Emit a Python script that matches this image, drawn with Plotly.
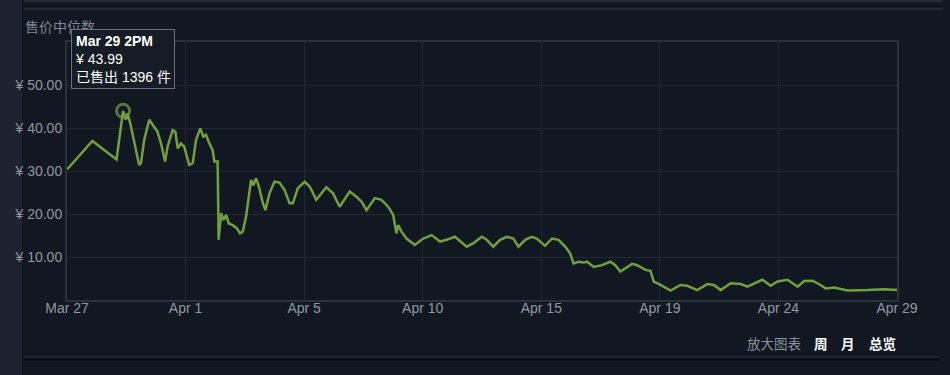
import plotly.graph_objects as go
import pandas as pd

# ---------------- data ----------------
base = pd.Timestamp("2024-03-27 00:00")
range_days = [0.351, 33.351]

day_offsets = [
    0.36, 1.36, 2.32, 2.58, 2.69, 2.75, 2.85, 2.95, 3.05, 3.22, 3.29, 3.42, 3.62, 3.75,
    3.95, 4.09, 4.25, 4.35, 4.55, 4.66, 4.75, 4.88, 5.01, 5.21, 5.35, 5.48, 5.65, 5.77,
    5.88, 5.98, 6.14, 6.21, 6.34, 6.38, 6.48, 6.57, 6.68, 6.78, 6.94, 7.10, 7.23, 7.34,
    7.47, 7.67, 7.76, 7.87, 7.98, 8.14, 8.24, 8.40, 8.60, 8.80, 9.00, 9.20, 9.33, 9.53,
    9.73, 9.80, 10.00, 10.26, 10.66, 10.93, 11.19, 11.59, 11.86, 12.06, 12.26, 12.59,
    12.85, 13.12, 13.32, 13.45, 13.52, 13.65, 13.85, 14.18, 14.51, 14.85, 15.18, 15.45,
    15.78, 15.98, 16.24, 16.51, 16.84, 17.04, 17.30, 17.57, 17.84, 18.10, 18.30, 18.57,
    18.83, 19.03, 19.36, 19.63, 19.89, 20.16, 20.36, 20.49, 20.69, 20.89, 21.03, 21.29,
    21.62, 21.95, 22.15, 22.35, 22.82, 23.02, 23.35, 23.55, 23.68, 23.95, 24.35, 24.74,
    25.01, 25.41, 25.81, 26.07, 26.34, 26.74, 27.14, 27.40, 28.00, 28.33, 28.60, 29.00,
    29.40, 29.66, 29.99, 30.19, 30.52, 30.85, 31.39, 32.18, 32.85, 33.35,
]
prices = [
    30.4, 37.0, 32.7, 43.99, 41.9, 43.4, 41.5, 38.8, 35.7, 31.4, 31.8, 37.2, 41.9, 40.7,
    39.1, 36.4, 32.2, 35.7, 39.5, 39.1, 35.3, 36.4, 35.7, 31.4, 31.8, 37.2, 39.9, 38.0,
    38.4, 36.8, 34.9, 32.2, 32.2, 14.0, 20.2, 18.6, 19.8, 17.8, 17.4, 16.7, 15.5, 15.9,
    19.4, 27.9, 26.7, 28.3, 26.4, 22.5, 20.9, 24.8, 27.5, 27.3, 25.6, 22.5, 22.5, 26.0,
    27.1, 27.5, 26.4, 23.3, 26.2, 24.8, 21.7, 25.2, 24.0, 22.9, 20.9, 23.7,
    23.3, 21.7, 19.8, 15.5, 17.4, 15.9, 14.3, 12.8, 14.3, 15.1, 13.6, 14.0,
    14.7, 13.6, 12.4, 13.2, 14.7, 14.0, 12.4, 14.0, 14.7, 14.3, 12.4, 14.0,
    14.7, 14.3, 12.6, 14.3, 14.0, 12.4, 10.8, 8.5, 8.9, 8.7, 8.9, 7.7,
    8.1, 8.9, 8.1, 6.6, 8.4, 8.1, 7.0, 6.8, 4.3, 3.5, 2.2, 3.5,
    3.3, 2.3, 3.7, 3.5, 2.3, 3.9, 3.7, 3.1, 4.7, 3.3, 4.3, 4.7,
    3.1, 4.4, 4.5, 3.9, 2.7, 2.9, 2.2, 2.3, 2.5, 2.3,
]

x_tick_labels = ["Mar 27", "Apr 1", "Apr 5", "Apr 10", "Apr 15", "Apr 19", "Apr 24", "Apr 29"]
y_tick_values = [10, 20, 30, 40, 50]
y_tick_labels = ["¥ 10.00", "¥ 20.00", "¥ 30.00", "¥ 40.00", "¥ 50.00"]
y_range = [0, 60]

peak_day = 2.58
peak_price = 43.99
peak_label = "Mar 29 2PM"
peak_sold = 1396

title_text = "售价中位数"
zoom_text = "放大图表"
range_buttons = ["周", "月", "总览"]

# ---------------- styling ----------------
W, H = 950, 375
L, R, T, B = 67, 897, 42, 300          # plot area in pixels
BG = "#111821"
STRIP = "#1d2231"
LINE = "#71a03f"
GRID = "#222932"
FRAME = "#2b323b"
TXT = "#8f98a0"
FONT = "Liberation Sans, Arial, Noto Sans CJK SC, sans-serif"
CJK = "Noto Sans CJK SC, sans-serif"


def px(x):
    return (x - L) / (R - L)


def py(y):
    return (B - y) / (B - T)


dates = base + pd.to_timedelta(day_offsets, unit="D")
x0 = base + pd.Timedelta(days=range_days[0])
x1 = base + pd.Timedelta(days=range_days[1])
tick_vals = pd.date_range(x0, x1, periods=len(x_tick_labels))
peak_date = base + pd.Timedelta(days=peak_day)

fig = go.Figure()
fig.add_trace(go.Scatter(
    x=dates, y=prices, mode="lines",
    line=dict(color=LINE, width=2.5, shape="linear"),
    hoverinfo="skip", showlegend=False,
))
fig.add_trace(go.Scatter(
    x=[peak_date], y=[peak_price], mode="markers",
    marker=dict(symbol="circle-open", size=13, color="rgba(111,154,62,0.75)",
                line=dict(width=3, color="rgba(111,154,62,0.75)")),
    hoverinfo="skip", showlegend=False,
))

shapes = [
    dict(type="rect", xref="paper", yref="paper", x0=px(0), x1=px(22), y0=py(H), y1=py(0),
         fillcolor=STRIP, line_width=0, layer="below"),
    dict(type="rect", xref="paper", yref="paper", x0=px(24), x1=px(942), y0=py(2), y1=py(0),
         fillcolor="#252b35", line_width=0, layer="below"),
    dict(type="line", xref="paper", yref="paper", x0=px(24), x1=px(942), y0=py(6.5), y1=py(6.5),
         line=dict(color="#0a0d12", width=1.5), layer="below"),
    dict(type="line", xref="paper", yref="paper", x0=px(24), x1=px(942), y0=py(8.5), y1=py(8.5),
         line=dict(color="#262c35", width=2), layer="below"),
    dict(type="line", xref="paper", yref="paper", x0=px(24), x1=px(940), y0=py(357), y1=py(357),
         line=dict(color="#1f252e", width=2), layer="below"),
    dict(type="line", xref="paper", yref="paper", x0=px(24), x1=px(940), y0=py(359.5), y1=py(359.5),
         line=dict(color="#080b10", width=2), layer="below"),
]

annotations = [
    dict(xref="paper", yref="paper", x=px(23), y=py(26.5), xanchor="left", yanchor="middle",
         text=title_text, showarrow=False,
         font=dict(family=CJK, size=14, color="#7d8690")),
    dict(xref="paper", yref="paper", x=px(71), y=py(29), xanchor="left", yanchor="top",
         text=f"<b>{peak_label}</b><br>¥ {peak_price:.2f}<br>已售出 {peak_sold} 件",
         showarrow=False, align="left",
         bgcolor="#161c25", bordercolor="#6a717b", borderwidth=1, borderpad=3,
         font=dict(family=FONT, size=14, color="#ffffff")),
    dict(xref="paper", yref="paper", x=px(804), y=py(343), xanchor="right", yanchor="middle",
         text=zoom_text, showarrow=False,
         font=dict(family=CJK, size=13.5, color="#8a929c")),
]
btn_x = [812, 839, 867]
for bx, lab in zip(btn_x, range_buttons):
    annotations.append(dict(
        xref="paper", yref="paper", x=px(bx), y=py(343), xanchor="left", yanchor="middle",
        text=f"<b>{lab}</b>", showarrow=False,
        font=dict(family=CJK, size=13.5, color="#ffffff")))

fig.update_layout(
    width=W, height=H, autosize=False,
    margin=dict(l=L, r=W - R, t=T, b=H - B, pad=0),
    paper_bgcolor=BG, plot_bgcolor=BG,
    font=dict(family=FONT, size=14, color=TXT),
    shapes=shapes, annotations=annotations,
    showlegend=False,
    xaxis=dict(
        type="date", range=[x0, x1],
        tickmode="array", tickvals=tick_vals, ticktext=x_tick_labels,
        showgrid=True, gridcolor=GRID, gridwidth=1,
        showline=True, linecolor=FRAME, linewidth=2, mirror=True,
        ticks="", ticklabelstandoff=-6, zeroline=False,
        tickfont=dict(family=FONT, size=14, color=TXT),
    ),
    yaxis=dict(
        range=y_range,
        tickmode="array", tickvals=y_tick_values, ticktext=y_tick_labels,
        showgrid=True, gridcolor=GRID, gridwidth=1,
        showline=True, linecolor=FRAME, linewidth=2, mirror=True,
        ticks="", ticklabelstandoff=0, zeroline=False,
        tickfont=dict(family=FONT, size=14, color=TXT),
    ),
)

fig.write_html("out.html")
